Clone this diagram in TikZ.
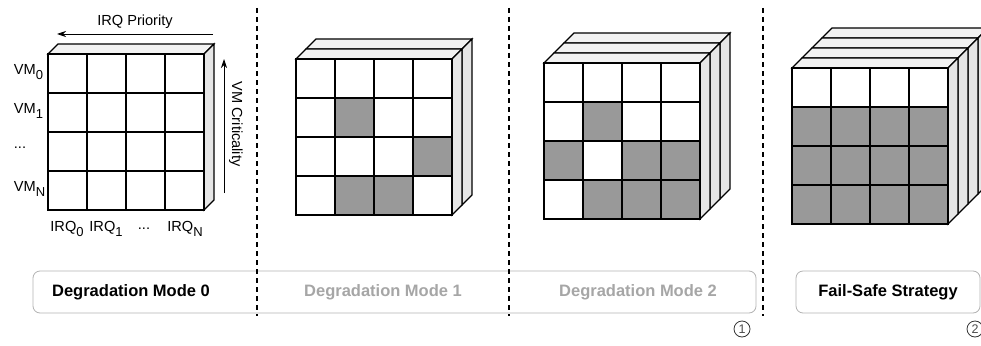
\documentclass[tikz,border=0pt]{standalone}
\usepackage{fontspec}
\setmainfont{Liberation Sans}
\usetikzlibrary{arrows.meta}

\definecolor{topgray}{HTML}{F2F2F2}
\definecolor{sidegray}{HTML}{E6E6E6}
\definecolor{cellgray}{HTML}{999999}
\definecolor{boxgray}{HTML}{B3B3B3}
\definecolor{fadedtext}{HTML}{A6A6A6}

% lowered index, as in VM_0
\newcommand{\lo}[1]{\raisebox{-0.3em}{\fontsize{13}{13}\selectfont #1}}

% stack of #3 slabs, front face (4x4 cells) at #1,#2
\newcommand{\irqcube}[3]{%
  \foreach \k in {#3,...,1}{
    \filldraw[fill=topgray] ({#1+(\k-1)*10},{#2-(\k-1)*10}) -- ++(10,-10) -- ++(156,0) -- ++(-10,10) -- cycle;
    \filldraw[fill=sidegray] ({#1+156+(\k-1)*10},{#2-(\k-1)*10}) -- ++(10,-10) -- ++(0,156) -- ++(-10,10) -- cycle;
  }
  \filldraw[fill=white] (#1,#2) rectangle ++(156,156);
  \foreach \i in {1,2,3}{
    \draw ({#1+\i*39},#2) -- ++(0,156);
    \draw (#1,{#2+\i*39}) -- ++(156,0);
  }
}

\begin{document}
\begin{tikzpicture}[x=1pt, y=-1pt, line width=1.1pt,
    axis/.style={font=\fontsize{14.6}{16}\selectfont},
    modetext/.style={font=\fontsize{16.5}{18}\selectfont\bfseries},
    labelbox/.style={draw=boxgray, line width=0.8pt, rounded corners=7pt, minimum height=42pt},
    stepmark/.style={circle, draw=black!80, line width=0.8pt, inner sep=0pt, minimum size=16pt,
      font=\fontsize{12.5}{12.5}\selectfont, text=black!70},
    sep/.style={line width=2pt, dash pattern=on 5pt off 4pt},
    cell/.style={fill=cellgray}]
  \fill[white] (0,0) rectangle (981,345);
  \useasboundingbox (0,0) rectangle (981,345);

  % mode 0 with axes
  \irqcube{48}{54}{1}
  \node[axis] (irqprio) at (135,22) {IRQ Priority};
  \coordinate (prioR) at (213,34); \coordinate (prioL) at (57,34);
  \draw[line width=0.8pt, -{Stealth[length=9pt, width=6pt]}] (prioR) -- (prioL);
  \node[axis, rotate=-90] (vmcrit) at (236,124) {VM Criticality};
  \coordinate (critB) at (224,193); \coordinate (critT) at (224,59);
  \draw[line width=0.8pt, -{Stealth[length=9pt, width=6pt]}] (critB) -- (critT);
  \node[axis, anchor=west] (vm0) at (10,72) {VM\lo{0}};
  \node[axis, anchor=west] (vm1) at (10,111) {VM\lo{1}};
  \node[axis, anchor=west] (vmdots) at (10,148) {...};
  \node[axis, anchor=west] (vmn) at (10,189) {VM\lo{N}};
  \node[axis] (irq0) at (67,229) {IRQ\lo{0}};
  \node[axis] (irq1) at (106,229) {IRQ\lo{1}};
  \node[axis] (irqdots) at (144,229) {...};
  \node[axis] (irqn) at (185,229) {IRQ\lo{N}};

  % mode 1
  \irqcube{296}{59}{2}
  \foreach \c/\r in {1/1, 3/2, 1/3, 2/3}
    \filldraw[cell] ({296+\c*39},{59+\r*39}) rectangle ++(39,39);

  % mode 2
  \irqcube{544}{63}{3}
  \foreach \c/\r in {1/1, 0/2, 2/2, 3/2, 1/3, 2/3, 3/3}
    \filldraw[cell] ({544+\c*39},{63+\r*39}) rectangle ++(39,39);

  % fail-safe
  \irqcube{792}{68}{4}
  \foreach \c in {0,...,3}
    \foreach \r in {1,2,3}
      \filldraw[cell] ({792+\c*39},{68+\r*39}) rectangle ++(39,39);

  % mode boxes
  \node[labelbox, minimum width=723pt] (modebox) at (394.5,292) {};
  \node[modetext] (mode0) at (131,292) {Degradation Mode 0};
  \node[modetext, text=fadedtext] (mode1) at (383,292) {Degradation Mode 1};
  \node[modetext, text=fadedtext] (mode2) at (638,292) {Degradation Mode 2};
  \node[labelbox, modetext, minimum width=184pt] (failsafe) at (888,292) {Fail-Safe Strategy};
  \node[stepmark] (step1) at (742,329) {1};
  \node[stepmark] (step2) at (975,329) {2};

  % separators
  \foreach \x in {257,509,763}
    \draw[sep] (\x,8) -- (\x,316);
\end{tikzpicture}
\end{document}
